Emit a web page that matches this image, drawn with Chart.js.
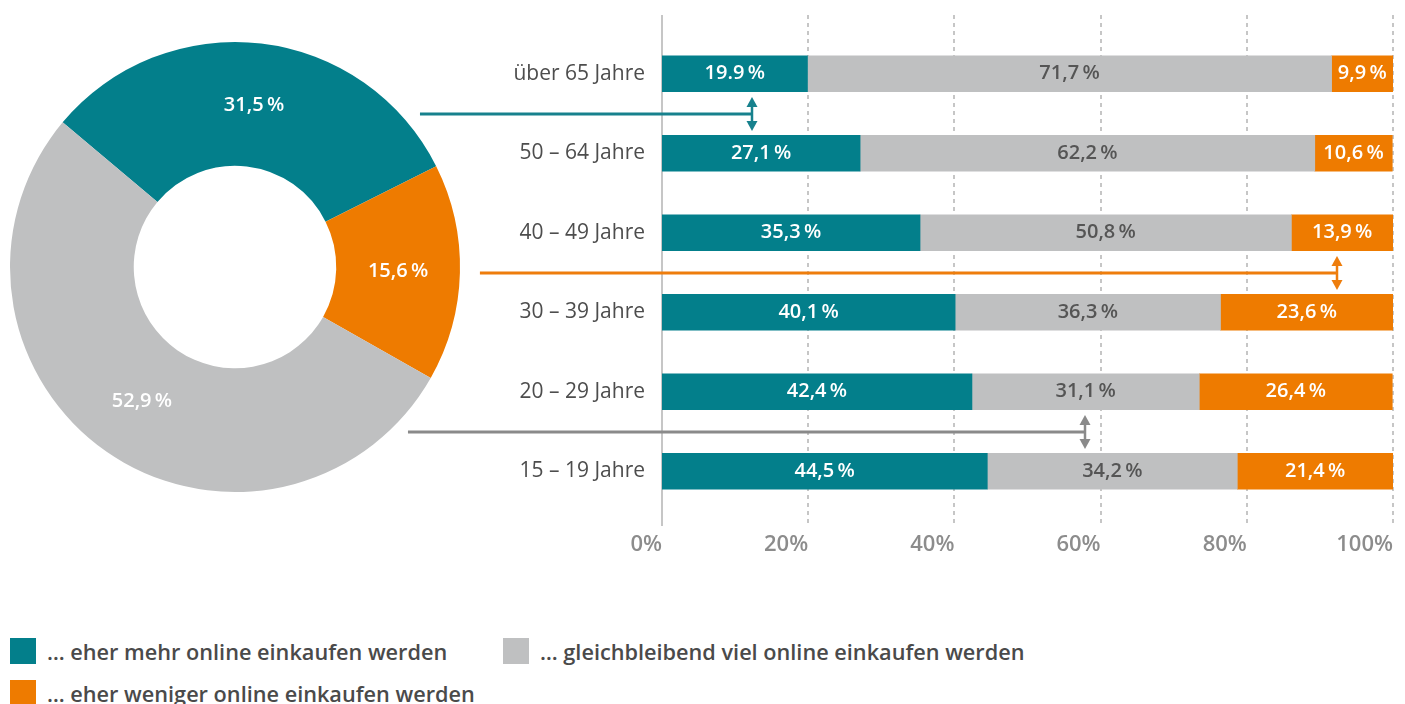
<!DOCTYPE html>
<html>
<head>
<meta charset="utf-8">
<script src="https://cdn.jsdelivr.net/npm/chart.js@4"></script>
<style>
  body { margin: 0; background: #fff; width: 1405px; height: 704px; overflow: hidden; position: relative; font-family: 'Open Sans', sans-serif; }
  canvas { position: absolute; left: 0; top: 0; }
  .legend-item { position: absolute; display: flex; align-items: center; font-size: 21.7px; font-weight: 600; color: #4a4a4a; height: 26px; white-space: nowrap; }
  .legend-item span.box { display: inline-block; width: 26px; height: 26px; margin-right: 11px; }
</style>
</head>
<body>
<canvas id="donut" width="470" height="534"></canvas>
<canvas id="bars" width="1405" height="572"></canvas>
<div id="legend"></div>

<script>
// Series names (legend)
const seriesNames = ['… eher mehr online einkaufen werden', '… gleichbleibend viel online einkaufen werden', '… eher weniger online einkaufen werden'];
const seriesColors = ['#037f8b', '#bfc0c1', '#ee7b00'];

// Doughnut: overall share (more, less, same)
const donutValues = [31.5, 15.6, 52.9];
const donutColors = ['#037f8b', '#ee7b00', '#bfc0c1'];

// Bars by age group
const ageGroups = ['über 65 Jahre', '50 – 64 Jahre', '40 – 49 Jahre', '30 – 39 Jahre', '20 – 29 Jahre', '15 – 19 Jahre'];
const moreOnline = [19.9, 27.1, 35.3, 40.1, 42.4, 44.5];
const sameOnline = [71.7, 62.2, 50.8, 36.3, 31.1, 34.2];
const lessOnline = [9.9, 10.6, 13.9, 23.6, 26.4, 21.4];

// Connector annotations: doughnut slice -> gap below row `row`, arrow at value `at`
const connectorRows = [0, 2, 4];
const connectorAt = [12.3, 92.3, 57.9];
const connectorColors = ['#17818d', '#ee7d0c', '#8a8a8a'];

function fmt(v) {
  return v.toFixed(1).replace('.', ',') + '\u2009%';
}
// the original prints the first value with a point
function barLabel(v, di, i) {
  if (di === 0 && i === 0) return v.toFixed(1) + '\u2009%';
  return fmt(v);
}

// labels in the doughnut slices
const donutLabels = {
  id: 'donutLabels',
  afterDatasetsDraw(chart) {
    const ctx = chart.ctx;
    ctx.save();
    ctx.font = '600 20px "Open Sans"';
    ctx.fillStyle = '#fff';
    ctx.textAlign = 'center';
    ctx.textBaseline = 'middle';
    chart.getDatasetMeta(0).data.forEach((arc, i) => {
      const p = arc.tooltipPosition();
      ctx.fillText(fmt(chart.data.datasets[0].data[i]), p.x, p.y);
    });
    ctx.restore();
  }
};

const donut = new Chart(document.getElementById('donut'), {
  type: 'doughnut',
  data: {
    labels: [seriesNames[0], seriesNames[2], seriesNames[1]],
    datasets: [{ data: donutValues, backgroundColor: donutColors, borderWidth: 0 }]
  },
  options: {
    responsive: false,
    animation: false,
    rotation: -50,
    cutout: '45%',
    layout: { padding: 10 },
    plugins: { legend: { display: false }, tooltip: { enabled: false } }
  },
  plugins: [donutLabels]
});

// dashed vertical grid lines, a little longer than the chart area
const gridLines = {
  id: 'gridLines',
  beforeDatasetsDraw(chart) {
    const { ctx, chartArea: a, scales: { x } } = chart;
    ctx.save();
    ctx.lineWidth = 2;
    ctx.strokeStyle = '#c6c6c6';
    x.ticks.forEach(t => {
      const px = Math.round(x.getPixelForValue(t.value));
      ctx.setLineDash(t.value === 0 ? [] : [4, 4]);
      ctx.beginPath();
      ctx.moveTo(px, a.top - 19);
      ctx.lineTo(px, a.bottom + (t.value === 0 ? 15 : 12));
      ctx.stroke();
    });
    ctx.restore();
  }
};

const valueLabels = {
  id: 'valueLabels',
  afterDatasetsDraw(chart) {
    const ctx = chart.ctx;
    ctx.save();
    ctx.font = '600 20px "Open Sans"';
    ctx.textAlign = 'center';
    ctx.textBaseline = 'middle';
    chart.data.datasets.forEach((ds, di) => {
      chart.getDatasetMeta(di).data.forEach((bar, i) => {
        const p = bar.getCenterPoint();
        const cx = Math.min(p.x, (bar.base + chart.chartArea.right) / 2);
        ctx.fillStyle = di === 1 ? '#555' : '#fff';
        ctx.fillText(barLabel(ds.data[i], di, i), cx, p.y);
      });
    });
    ctx.restore();
  }
};

// lines from the doughnut to the bars, ending in a double arrow
const connectors = {
  id: 'connectors',
  afterDraw(chart) {
    const arc = donut.getDatasetMeta(0).data[0];
    const cx = arc.x, cy = arc.y, R = arc.outerRadius;
    const { ctx, scales: { x, y } } = chart;
    ctx.save();
    connectorRows.forEach((row, k) => {
      const yPx = Math.round((y.getPixelForValue(row) + y.getPixelForValue(row + 1)) / 2);
      const xPx = Math.round(x.getPixelForValue(connectorAt[k]));
      const dy = yPx - cy;
      const x0 = cx + Math.sqrt(Math.max(R * R - dy * dy, 0)) + 20;
      ctx.strokeStyle = connectorColors[k];
      ctx.fillStyle = connectorColors[k];
      ctx.lineWidth = 3;
      ctx.beginPath();
      ctx.moveTo(x0, yPx);
      ctx.lineTo(xPx, yPx);
      ctx.stroke();
      // double arrow
      const h = 17;
      ctx.lineWidth = 2.5;
      ctx.beginPath();
      ctx.moveTo(xPx, yPx - h + 8);
      ctx.lineTo(xPx, yPx + h - 8);
      ctx.stroke();
      ctx.beginPath();
      ctx.moveTo(xPx, yPx - h);
      ctx.lineTo(xPx - 5.5, yPx - h + 10);
      ctx.lineTo(xPx + 5.5, yPx - h + 10);
      ctx.closePath();
      ctx.fill();
      ctx.beginPath();
      ctx.moveTo(xPx, yPx + h);
      ctx.lineTo(xPx - 5.5, yPx + h - 10);
      ctx.lineTo(xPx + 5.5, yPx + h - 10);
      ctx.closePath();
      ctx.fill();
    });
    ctx.restore();
  }
};

new Chart(document.getElementById('bars'), {
  type: 'bar',
  data: {
    labels: ageGroups,
    datasets: [
      { label: seriesNames[0], data: moreOnline, backgroundColor: seriesColors[0], clip: 0 },
      { label: seriesNames[1], data: sameOnline, backgroundColor: seriesColors[1], clip: 0 },
      { label: seriesNames[2], data: lessOnline, backgroundColor: seriesColors[2], clip: 0 }
    ]
  },
  options: {
    indexAxis: 'y',
    responsive: false,
    animation: false,
    layout: { padding: { top: 34, right: 12, left: 0, bottom: 0 } },
    datasets: { bar: { barThickness: 36, borderWidth: 0 } },
    plugins: { legend: { display: false }, tooltip: { enabled: false } },
    scales: {
      x: {
        stacked: true,
        min: 0,
        max: 100,
        ticks: {
          stepSize: 20,
          align: 'end',
          padding: 21,
          color: '#8c8c8c',
          font: { family: 'Open Sans', size: 22, weight: '600' },
          callback: v => v + '%'
        },
        grid: { display: false, drawTicks: false },
        border: { display: false },
        // labels are right-aligned, so no side overflow
        afterFit(s) { s.height = 61; s.paddingRight = 0; s.paddingLeft = 0; }
      },
      y: {
        stacked: true,
        ticks: { color: '#4d4d4d', padding: 17, font: { family: 'Open Sans', size: 21 } },
        grid: { display: false, drawTicks: false },
        border: { display: false },
        afterFit(s) { s.width = 662; }
      }
    }
  },
  plugins: [gridLines, valueLabels, connectors]
});

// legend
const legendPos = [[10, 638], [503, 638], [10, 680]];
const legend = document.getElementById('legend');
seriesNames.forEach((name, i) => {
  const item = document.createElement('div');
  item.className = 'legend-item';
  item.style.left = legendPos[i][0] + 'px';
  item.style.top = legendPos[i][1] + 'px';
  item.innerHTML = '<span class="box" style="background:' + seriesColors[i] + '"></span>' + name;
  legend.appendChild(item);
});
</script>
</body>
</html>
